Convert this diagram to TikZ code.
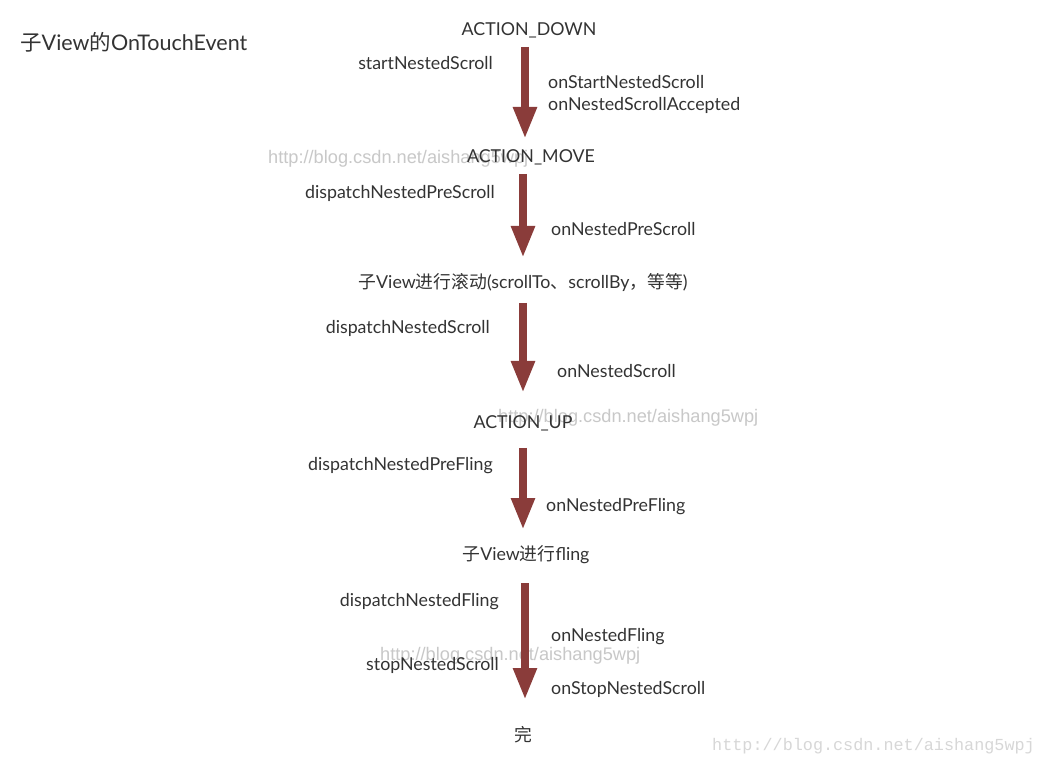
\documentclass[tikz,border=0pt]{standalone}
\usepackage{fontspec}
\setmainfont{Lato}
\newfontfamily\cjk{Noto Sans CJK SC}
\newfontfamily\wmsans{Liberation Sans}
\newfontfamily\wmmono{Liberation Mono}
\usetikzlibrary{arrows.meta}
\definecolor{arrowred}{RGB}{138,60,58}
\definecolor{txt}{RGB}{51,51,51}
\definecolor{wm}{RGB}{200,200,200}
\definecolor{wmlight}{RGB}{215,215,215}
\tikzset{
  lbl/.style={inner sep=0pt, text=txt, yshift=-1.5pt, font=\fontsize{17.8}{20}\selectfont},
  wmark/.style={inner sep=0pt, text=wm, yshift=-1.5pt, font=\wmsans\fontsize{18.2}{20}\selectfont},
  bigarrow/.style={draw=arrowred, line width=8pt, -{Triangle[width=22pt,length=32pt]}, arrowred},
}
\begin{document}
\begin{tikzpicture}[x=1pt,y=-1pt]
\useasboundingbox[fill=white] (0,0) rectangle (1045,767);
% watermarks (behind)
\node[wmark, anchor=west] (wm1) at (268,157) {http://blog.csdn.net/aishang5wpj};
\node[wmark, anchor=west] (wm2) at (498,416) {http://blog.csdn.net/aishang5wpj};
\node[wmark, anchor=west] (wm3) at (380,654) {http://blog.csdn.net/aishang5wpj};
\node[inner sep=0pt, text=wmlight, font=\wmmono\fontsize{16.8}{19}\selectfont, anchor=west] (wm4) at (712,746) {http://blog.csdn.net/aishang5wpj};
% title
\node[lbl, anchor=west, font=\fontsize{21.5}{24}\selectfont] (title) at (20,41) {{\cjk 子}View{\cjk 的}OnTouchEvent};
% states
\node[lbl] (down) at (529,29) {ACTION\_DOWN};
\node[lbl] (move) at (531,156) {ACTION\_MOVE};
\node[lbl] (scroll) at (523,281) {{\cjk 子}View{\cjk 进行滚动}(scrollTo{\cjk 、}scrollBy{\cjk ，等等})};
\node[lbl] (up) at (523,422) {ACTION\_UP};
\node[lbl] (fling) at (526,553) {{\cjk 子}View{\cjk 进行}fling};
\node[lbl] (done) at (523,733) {\cjk 完};
% left labels
\node[lbl, anchor=east] (l1) at (493,62) {startNestedScroll};
\node[lbl, anchor=east] (l2) at (495,192) {dispatchNestedPreScroll};
\node[lbl, anchor=east] (l3) at (490,327) {dispatchNestedScroll};
\node[lbl, anchor=east] (l4) at (493,464) {dispatchNestedPreFling};
\node[lbl, anchor=east] (l5) at (499,600) {dispatchNestedFling};
\node[lbl, anchor=east] (l6) at (499,664) {stopNestedScroll};
% right labels
\node[lbl, anchor=west] (r1) at (548,81) {onStartNestedScroll};
\node[lbl, anchor=west] (r1b) at (548,104) {onNestedScrollAccepted};
\node[lbl, anchor=west] (r2) at (551,228) {onNestedPreScroll};
\node[lbl, anchor=west] (r3) at (557,370) {onNestedScroll};
\node[lbl, anchor=west] (r4) at (546,505) {onNestedPreFling};
\node[lbl, anchor=west] (r5) at (551,635) {onNestedFling};
\node[lbl, anchor=west] (r6) at (551,688) {onStopNestedScroll};
% arrow endpoints
\coordinate (a1s) at (525,47);  \coordinate (a1e) at (525,139);
\coordinate (a2s) at (523,174); \coordinate (a2e) at (523,258);
\coordinate (a3s) at (523,303); \coordinate (a3e) at (523,393);
\coordinate (a4s) at (523,448); \coordinate (a4e) at (523,530);
\coordinate (a5s) at (525,583); \coordinate (a5e) at (525,700);
\draw[bigarrow] (a1s) -- (a1e);
\draw[bigarrow] (a2s) -- (a2e);
\draw[bigarrow] (a3s) -- (a3e);
\draw[bigarrow] (a4s) -- (a4e);
\draw[bigarrow] (a5s) -- (a5e);
\end{tikzpicture}
\end{document}
